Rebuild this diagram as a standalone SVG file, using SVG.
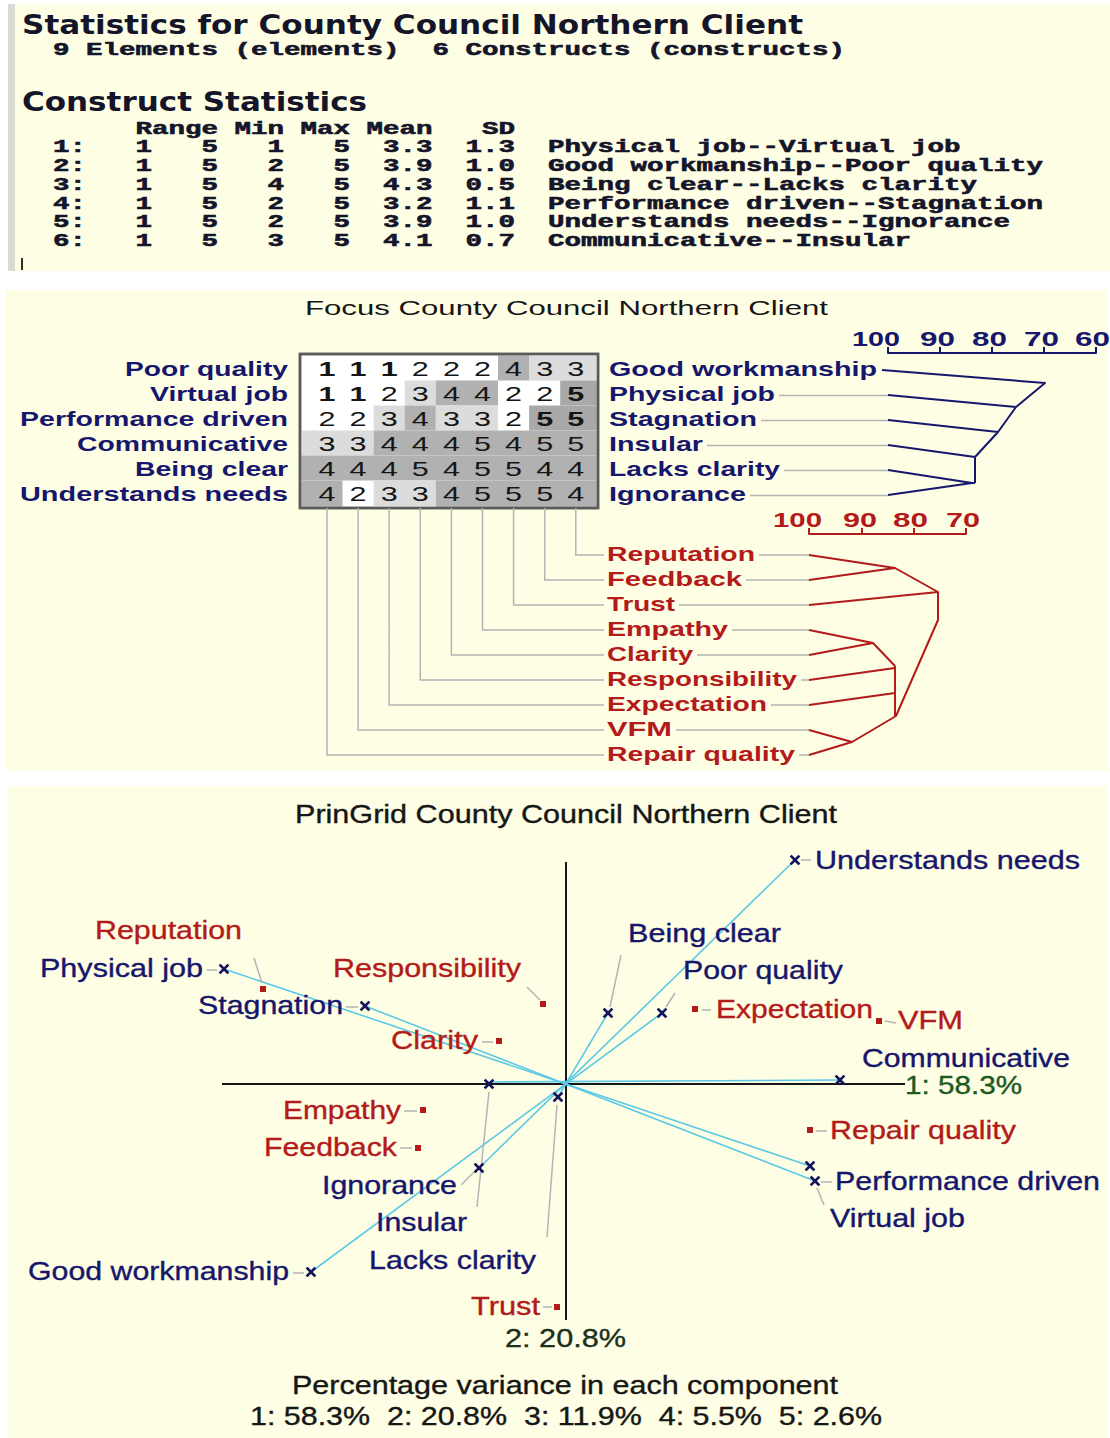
<svg xmlns="http://www.w3.org/2000/svg" xmlns:xlink="http://www.w3.org/1999/xlink" width="1110" height="1438" viewBox="0 0 1110 1438">
<style>
  .panel{fill:#fefee4}
  .mono{font-family:"Liberation Mono","Courier New",monospace;font-weight:bold;font-size:17.5px;fill:#15152a;stroke:#15152a;stroke-width:0.55;white-space:pre}
  .hd{font-family:"DejaVu Sans",Verdana,sans-serif;font-weight:bold;font-size:26px;fill:#15152a}
  .s2{font-family:"Liberation Sans",Arial,sans-serif;font-size:21px}
  .s3{font-family:"Liberation Sans",Arial,sans-serif;font-size:25px;stroke-width:0.35}
  .b{font-weight:bold}
  .navy{fill:#16166c}
  .s3.navy{stroke:#16166c}
  .red{fill:#b31a1a}
  .s3.red{stroke:#b31a1a}
  .green{fill:#1d5a1d;stroke:#1d5a1d}
  .blk{fill:#161616}
  .s3 .blk,.s3.blk{stroke:#161616}
  .dg{font-family:"Liberation Sans",Arial,sans-serif;font-size:21px;fill:#151515}
  .v1,.v2{fill:#ffffff}
  .v3{fill:#dcdcdc}
  .v4{fill:#b1b1b1}
  .v5{fill:#a9a9a9}
  .lead{stroke:#b4b4b4;stroke-width:1.5;fill:none}
  .tree-n{stroke:#16166c;stroke-width:2;fill:none;stroke-linejoin:round}
  .tree-r{stroke:#b31a1a;stroke-width:2;fill:none;stroke-linejoin:round}
  .axis{stroke:#161616;stroke-width:2}
  .pole{stroke:#5cc8e6;stroke-width:1.6}
  .xm{stroke:#14145c;stroke-width:2.6;stroke-linecap:square}
  .sq{fill:#b31a1a}
</style>
<defs>
  <path id="xmark" class="xm" d="M-3.5,-3.5L3.5,3.5M-3.5,3.5L3.5,-3.5"/>
  <rect id="sqmark" class="sq" x="-3" y="-3" width="6" height="6"/>
</defs>

<rect width="1110" height="1438" fill="#ffffff"/>

<!-- ===== Panel 1: construct statistics text ===== -->
<g id="stats">
  <rect class="panel" x="8" y="4" width="1102" height="267"/>
  <rect x="8" y="4" width="7" height="267" fill="#dadad2"/>
  <text class="hd" x="22" y="34" textLength="781" lengthAdjust="spacingAndGlyphs">Statistics for County Council Northern Client</text>
  <text class="mono" xml:space="preserve" x="53" y="55" textLength="792" lengthAdjust="spacingAndGlyphs">9 Elements (elements)  6 Constructs (constructs)</text>
  <text class="hd" x="22" y="111" textLength="345" lengthAdjust="spacingAndGlyphs">Construct Statistics</text>
  <text class="mono" xml:space="preserve" x="135.5" y="134" textLength="379.5" lengthAdjust="spacingAndGlyphs">Range Min Max Mean   SD</text>
  <text class="mono" xml:space="preserve" x="53" y="152" textLength="907.5" lengthAdjust="spacingAndGlyphs">1:   1   5   1   5  3.3  1.3  Physical job--Virtual job</text>
  <text class="mono" xml:space="preserve" x="53" y="171" textLength="990" lengthAdjust="spacingAndGlyphs">2:   1   5   2   5  3.9  1.0  Good workmanship--Poor quality</text>
  <text class="mono" xml:space="preserve" x="53" y="190" textLength="924" lengthAdjust="spacingAndGlyphs">3:   1   5   4   5  4.3  0.5  Being clear--Lacks clarity</text>
  <text class="mono" xml:space="preserve" x="53" y="209" textLength="990" lengthAdjust="spacingAndGlyphs">4:   1   5   2   5  3.2  1.1  Performance driven--Stagnation</text>
  <text class="mono" xml:space="preserve" x="53" y="227" textLength="957" lengthAdjust="spacingAndGlyphs">5:   1   5   2   5  3.9  1.0  Understands needs--Ignorance</text>
  <text class="mono" xml:space="preserve" x="53" y="246" textLength="858" lengthAdjust="spacingAndGlyphs">6:   1   5   3   5  4.1  0.7  Communicative--Insular</text>
  <line x1="22" y1="258" x2="22" y2="270" stroke="#333" stroke-width="2"/>
</g>

<!-- ===== Panel 2: focus grid with both trees ===== -->
<g id="focus">
  <rect class="panel" x="6" y="290" width="1102" height="481"/>
  <text class="s2 blk" x="305" y="315" textLength="523" lengthAdjust="spacingAndGlyphs">Focus County Council Northern Client</text>

  <!-- rating grid -->
  <g id="grid">
    <rect x="300" y="354" width="298" height="154" fill="#ffffff" stroke="#5a5a5a" stroke-width="2.5"/>
    <!-- row 1 -->
    <rect class="v4" x="498" y="355" width="31.1" height="25.5"/>
    <rect class="v3" x="529.1" y="355" width="67.9" height="25.5"/>
    <!-- row 2 -->
    <rect class="v3" x="404.7" y="380.5" width="31.1" height="25"/>
    <rect class="v4" x="435.8" y="380.5" width="62.2" height="25"/>
    <rect class="v5" x="560.2" y="380.5" width="36.8" height="25"/>
    <!-- row 3 -->
    <rect class="v3" x="373.6" y="405.5" width="31.1" height="25"/>
    <rect class="v4" x="404.7" y="405.5" width="31.1" height="25"/>
    <rect class="v3" x="435.8" y="405.5" width="62.2" height="25"/>
    <rect class="v5" x="529.1" y="405.5" width="67.9" height="25"/>
    <!-- row 4 -->
    <rect class="v3" x="301" y="430.5" width="72.6" height="25"/>
    <rect class="v4" x="373.6" y="430.5" width="223.4" height="25"/>
    <!-- row 5 -->
    <rect class="v4" x="301" y="455.5" width="296" height="25"/>
    <!-- row 6 -->
    <rect class="v4" x="301" y="480.5" width="41.5" height="26.5"/>
    <rect class="v3" x="373.6" y="480.5" width="62.2" height="26.5"/>
    <rect class="v4" x="435.8" y="480.5" width="161.2" height="26.5"/>
    <rect x="300" y="354" width="298" height="154" fill="none" stroke="#5a5a5a" stroke-width="2.5"/>

    <g class="dg">
      <text x="318.5" y="375.5" class="b" textLength="17" lengthAdjust="spacingAndGlyphs">1</text>
      <text x="349.6" y="375.5" class="b" textLength="17" lengthAdjust="spacingAndGlyphs">1</text>
      <text x="380.7" y="375.5" class="b" textLength="17" lengthAdjust="spacingAndGlyphs">1</text>
      <text x="411.8" y="375.5" textLength="17" lengthAdjust="spacingAndGlyphs">2</text>
      <text x="442.9" y="375.5" textLength="17" lengthAdjust="spacingAndGlyphs">2</text>
      <text x="474.0" y="375.5" textLength="17" lengthAdjust="spacingAndGlyphs">2</text>
      <text x="505.1" y="375.5" textLength="17" lengthAdjust="spacingAndGlyphs">4</text>
      <text x="536.2" y="375.5" textLength="17" lengthAdjust="spacingAndGlyphs">3</text>
      <text x="567.3" y="375.5" textLength="17" lengthAdjust="spacingAndGlyphs">3</text>

      <text x="318.5" y="400.5" class="b" textLength="17" lengthAdjust="spacingAndGlyphs">1</text>
      <text x="349.6" y="400.5" class="b" textLength="17" lengthAdjust="spacingAndGlyphs">1</text>
      <text x="380.7" y="400.5" textLength="17" lengthAdjust="spacingAndGlyphs">2</text>
      <text x="411.8" y="400.5" textLength="17" lengthAdjust="spacingAndGlyphs">3</text>
      <text x="442.9" y="400.5" textLength="17" lengthAdjust="spacingAndGlyphs">4</text>
      <text x="474.0" y="400.5" textLength="17" lengthAdjust="spacingAndGlyphs">4</text>
      <text x="505.1" y="400.5" textLength="17" lengthAdjust="spacingAndGlyphs">2</text>
      <text x="536.2" y="400.5" textLength="17" lengthAdjust="spacingAndGlyphs">2</text>
      <text x="567.3" y="400.5" class="b" textLength="17" lengthAdjust="spacingAndGlyphs">5</text>

      <text x="318.5" y="425.5" textLength="17" lengthAdjust="spacingAndGlyphs">2</text>
      <text x="349.6" y="425.5" textLength="17" lengthAdjust="spacingAndGlyphs">2</text>
      <text x="380.7" y="425.5" textLength="17" lengthAdjust="spacingAndGlyphs">3</text>
      <text x="411.8" y="425.5" textLength="17" lengthAdjust="spacingAndGlyphs">4</text>
      <text x="442.9" y="425.5" textLength="17" lengthAdjust="spacingAndGlyphs">3</text>
      <text x="474.0" y="425.5" textLength="17" lengthAdjust="spacingAndGlyphs">3</text>
      <text x="505.1" y="425.5" textLength="17" lengthAdjust="spacingAndGlyphs">2</text>
      <text x="536.2" y="425.5" class="b" textLength="17" lengthAdjust="spacingAndGlyphs">5</text>
      <text x="567.3" y="425.5" class="b" textLength="17" lengthAdjust="spacingAndGlyphs">5</text>

      <text x="318.5" y="450.5" textLength="17" lengthAdjust="spacingAndGlyphs">3</text>
      <text x="349.6" y="450.5" textLength="17" lengthAdjust="spacingAndGlyphs">3</text>
      <text x="380.7" y="450.5" textLength="17" lengthAdjust="spacingAndGlyphs">4</text>
      <text x="411.8" y="450.5" textLength="17" lengthAdjust="spacingAndGlyphs">4</text>
      <text x="442.9" y="450.5" textLength="17" lengthAdjust="spacingAndGlyphs">4</text>
      <text x="474.0" y="450.5" textLength="17" lengthAdjust="spacingAndGlyphs">5</text>
      <text x="505.1" y="450.5" textLength="17" lengthAdjust="spacingAndGlyphs">4</text>
      <text x="536.2" y="450.5" textLength="17" lengthAdjust="spacingAndGlyphs">5</text>
      <text x="567.3" y="450.5" textLength="17" lengthAdjust="spacingAndGlyphs">5</text>

      <text x="318.5" y="475.5" textLength="17" lengthAdjust="spacingAndGlyphs">4</text>
      <text x="349.6" y="475.5" textLength="17" lengthAdjust="spacingAndGlyphs">4</text>
      <text x="380.7" y="475.5" textLength="17" lengthAdjust="spacingAndGlyphs">4</text>
      <text x="411.8" y="475.5" textLength="17" lengthAdjust="spacingAndGlyphs">5</text>
      <text x="442.9" y="475.5" textLength="17" lengthAdjust="spacingAndGlyphs">4</text>
      <text x="474.0" y="475.5" textLength="17" lengthAdjust="spacingAndGlyphs">5</text>
      <text x="505.1" y="475.5" textLength="17" lengthAdjust="spacingAndGlyphs">5</text>
      <text x="536.2" y="475.5" textLength="17" lengthAdjust="spacingAndGlyphs">4</text>
      <text x="567.3" y="475.5" textLength="17" lengthAdjust="spacingAndGlyphs">4</text>

      <text x="318.5" y="500.5" textLength="17" lengthAdjust="spacingAndGlyphs">4</text>
      <text x="349.6" y="500.5" textLength="17" lengthAdjust="spacingAndGlyphs">2</text>
      <text x="380.7" y="500.5" textLength="17" lengthAdjust="spacingAndGlyphs">3</text>
      <text x="411.8" y="500.5" textLength="17" lengthAdjust="spacingAndGlyphs">3</text>
      <text x="442.9" y="500.5" textLength="17" lengthAdjust="spacingAndGlyphs">4</text>
      <text x="474.0" y="500.5" textLength="17" lengthAdjust="spacingAndGlyphs">5</text>
      <text x="505.1" y="500.5" textLength="17" lengthAdjust="spacingAndGlyphs">5</text>
      <text x="536.2" y="500.5" textLength="17" lengthAdjust="spacingAndGlyphs">5</text>
      <text x="567.3" y="500.5" textLength="17" lengthAdjust="spacingAndGlyphs">4</text>
    </g>
  </g>

  <!-- construct poles, left and right of the grid -->
  <g id="construct-labels" class="s2 b navy">
    <text x="125" y="375.5" textLength="163" lengthAdjust="spacingAndGlyphs">Poor quality</text>
    <text x="150" y="400.5" textLength="138" lengthAdjust="spacingAndGlyphs">Virtual job</text>
    <text x="20" y="425.5" textLength="268" lengthAdjust="spacingAndGlyphs">Performance driven</text>
    <text x="77" y="450.5" textLength="211" lengthAdjust="spacingAndGlyphs">Communicative</text>
    <text x="135" y="475.5" textLength="153" lengthAdjust="spacingAndGlyphs">Being clear</text>
    <text x="20" y="500.5" textLength="268" lengthAdjust="spacingAndGlyphs">Understands needs</text>
    <text x="609" y="375.5" textLength="268" lengthAdjust="spacingAndGlyphs">Good workmanship</text>
    <text x="609" y="400.5" textLength="166" lengthAdjust="spacingAndGlyphs">Physical job</text>
    <text x="609" y="425.5" textLength="148" lengthAdjust="spacingAndGlyphs">Stagnation</text>
    <text x="609" y="450.5" textLength="94" lengthAdjust="spacingAndGlyphs">Insular</text>
    <text x="609" y="475.5" textLength="171" lengthAdjust="spacingAndGlyphs">Lacks clarity</text>
    <text x="609" y="500.5" textLength="137" lengthAdjust="spacingAndGlyphs">Ignorance</text>
  </g>

  <!-- element names below the grid -->
  <g id="element-labels" class="s2 b red">
    <text x="607" y="560.5" textLength="148" lengthAdjust="spacingAndGlyphs">Reputation</text>
    <text x="607" y="585.5" textLength="135" lengthAdjust="spacingAndGlyphs">Feedback</text>
    <text x="607" y="610.5" textLength="68" lengthAdjust="spacingAndGlyphs">Trust</text>
    <text x="607" y="635.5" textLength="121" lengthAdjust="spacingAndGlyphs">Empathy</text>
    <text x="607" y="660.5" textLength="86" lengthAdjust="spacingAndGlyphs">Clarity</text>
    <text x="607" y="685.5" textLength="190" lengthAdjust="spacingAndGlyphs">Responsibility</text>
    <text x="607" y="710.5" textLength="160" lengthAdjust="spacingAndGlyphs">Expectation</text>
    <text x="607" y="735.5" textLength="65" lengthAdjust="spacingAndGlyphs">VFM</text>
    <text x="607" y="760.5" textLength="188" lengthAdjust="spacingAndGlyphs">Repair quality</text>
  </g>

  <!-- similarity scales -->
  <g id="scale-constructs">
    <g class="s2 b navy">
      <text x="852" y="346" textLength="48" lengthAdjust="spacingAndGlyphs">100</text>
      <text x="920" y="346" textLength="35" lengthAdjust="spacingAndGlyphs">90</text>
      <text x="972" y="346" textLength="35" lengthAdjust="spacingAndGlyphs">80</text>
      <text x="1024" y="346" textLength="35" lengthAdjust="spacingAndGlyphs">70</text>
      <text x="1075" y="346" textLength="35" lengthAdjust="spacingAndGlyphs">60</text>
    </g>
    <path class="tree-n" stroke-width="1.6" d="M888,347V353H1096V347M940,347V353M992,347V353M1044,347V353"/>
  </g>
  <g id="scale-elements">
    <g class="s2 b red">
      <text x="773" y="527" textLength="49" lengthAdjust="spacingAndGlyphs">100</text>
      <text x="843" y="527" textLength="34" lengthAdjust="spacingAndGlyphs">90</text>
      <text x="893" y="527" textLength="35" lengthAdjust="spacingAndGlyphs">80</text>
      <text x="946" y="527" textLength="34" lengthAdjust="spacingAndGlyphs">70</text>
    </g>
    <path class="tree-r" stroke-width="1.6" d="M809,528V534H966V528M862,528V534M914,528V534"/>
  </g>

  <!-- connectors: leaders, column drops and cluster trees -->
  <g id="focus-connectors">
    <path class="lead" d="M779,395.5H888M761,420.5H888M707,445.5H888M784,470.5H888M750,495.5H888"/>
    <path class="lead" d="M575.8,508V555H604M544.7,508V580H604M513.6,508V605H604M482.5,508V630H604M451.4,508V655H604M420.3,508V680H604M389.2,508V705H604M358.1,508V730H604M327,508V755H604"/>
    <path class="lead" d="M759,555H809M746,580H809M679,605H809M732,630H809M697,655H809M801,680H809M771,705H809M676,730H809M799,755H809"/>
    <path class="tree-n" d="M882,370L1045,383L1016,407L998,432L975,457V483M888,395L1016,407M888,420L998,432M888,445L975,457M888,470L972,483L888,495M972,483H975"/>
    <path class="tree-r" d="M809,555L895,568L809,580M895,568L938,592L809,605M938,592V620L896,716M809,630L873,643L809,655M873,643L895,666M809,680L895,668M809,705L895,693M895,666V717M809,730L852,742L809,755M852,742L896,716"/>
  </g>
</g>

<!-- ===== Panel 3: principal components plot ===== -->
<g id="pringrid">
  <rect class="panel" x="8" y="786" width="1100" height="652"/>
  <text class="s3 blk" x="295" y="823" textLength="542" lengthAdjust="spacingAndGlyphs">PrinGrid County Council Northern Client</text>

  <g id="axes">
    <line class="axis" x1="222" y1="1084" x2="905" y2="1084"/>
    <line class="axis" x1="566" y1="862" x2="566" y2="1320"/>
  </g>

  <!-- construct vectors, pole to pole through the origin -->
  <g id="pc-connectors">
    <line class="pole" x1="224" y1="969" x2="810" y2="1166"/>
    <line class="pole" x1="311" y1="1272" x2="662" y2="1013"/>
    <line class="pole" x1="608" y1="1013" x2="558" y2="1097"/>
    <line class="pole" x1="365" y1="1006" x2="815" y2="1181"/>
    <line class="pole" x1="795" y1="860" x2="479" y2="1168"/>
    <line class="pole" x1="489" y1="1082" x2="840" y2="1080"/>
    <path class="lead" d="M254,958L262,983M527,987L540,1000M621,955L610,1007M675,993L666,1007M207,970H217M346,1007H358M482,1042H493M702,1010H711M885,1021L896,1023M404,1111H417M400,1148H412M816,1131H827M821,1182H832M293,1273H304M543,1307H552M461,1185L474,1172M489,1092L477,1207M557,1105L547,1237M817,1188L824,1205M801,860H811"/>
  </g>

  <g id="construct-points">
    <use xlink:href="#xmark" x="795" y="860"/>
    <use xlink:href="#xmark" x="224" y="969"/>
    <use xlink:href="#xmark" x="365" y="1006"/>
    <use xlink:href="#xmark" x="608" y="1013"/>
    <use xlink:href="#xmark" x="662" y="1013"/>
    <use xlink:href="#xmark" x="840" y="1080"/>
    <use xlink:href="#xmark" x="489" y="1084"/>
    <use xlink:href="#xmark" x="558" y="1097"/>
    <use xlink:href="#xmark" x="810" y="1166"/>
    <use xlink:href="#xmark" x="815" y="1181"/>
    <use xlink:href="#xmark" x="479" y="1168"/>
    <use xlink:href="#xmark" x="311" y="1272"/>
  </g>
  <g id="element-points">
    <use xlink:href="#sqmark" x="263" y="989"/>
    <use xlink:href="#sqmark" x="543" y="1004"/>
    <use xlink:href="#sqmark" x="499" y="1041"/>
    <use xlink:href="#sqmark" x="695" y="1009"/>
    <use xlink:href="#sqmark" x="879" y="1021"/>
    <use xlink:href="#sqmark" x="423" y="1110"/>
    <use xlink:href="#sqmark" x="418" y="1148"/>
    <use xlink:href="#sqmark" x="810" y="1130"/>
    <use xlink:href="#sqmark" x="557" y="1307"/>
  </g>

  <g id="pc-construct-labels" class="s3 navy">
    <text x="815" y="869" textLength="265" lengthAdjust="spacingAndGlyphs">Understands needs</text>
    <text x="628" y="942" textLength="153" lengthAdjust="spacingAndGlyphs">Being clear</text>
    <text x="40" y="977" textLength="163" lengthAdjust="spacingAndGlyphs">Physical job</text>
    <text x="683" y="979" textLength="160" lengthAdjust="spacingAndGlyphs">Poor quality</text>
    <text x="198" y="1014" textLength="145" lengthAdjust="spacingAndGlyphs">Stagnation</text>
    <text x="862" y="1067" textLength="208" lengthAdjust="spacingAndGlyphs">Communicative</text>
    <text x="835" y="1190" textLength="265" lengthAdjust="spacingAndGlyphs">Performance driven</text>
    <text x="322" y="1194" textLength="135" lengthAdjust="spacingAndGlyphs">Ignorance</text>
    <text x="830" y="1227" textLength="135" lengthAdjust="spacingAndGlyphs">Virtual job</text>
    <text x="376" y="1231" textLength="91" lengthAdjust="spacingAndGlyphs">Insular</text>
    <text x="369" y="1269" textLength="167" lengthAdjust="spacingAndGlyphs">Lacks clarity</text>
    <text x="28" y="1280" textLength="261" lengthAdjust="spacingAndGlyphs">Good workmanship</text>
  </g>
  <g id="pc-element-labels" class="s3 red">
    <text x="95" y="939" textLength="147" lengthAdjust="spacingAndGlyphs">Reputation</text>
    <text x="333" y="977" textLength="188" lengthAdjust="spacingAndGlyphs">Responsibility</text>
    <text x="716" y="1018" textLength="157" lengthAdjust="spacingAndGlyphs">Expectation</text>
    <text x="898" y="1029" textLength="65" lengthAdjust="spacingAndGlyphs">VFM</text>
    <text x="391" y="1049" textLength="87" lengthAdjust="spacingAndGlyphs">Clarity</text>
    <text x="283" y="1119" textLength="118" lengthAdjust="spacingAndGlyphs">Empathy</text>
    <text x="830" y="1139" textLength="186" lengthAdjust="spacingAndGlyphs">Repair quality</text>
    <text x="264" y="1156" textLength="133" lengthAdjust="spacingAndGlyphs">Feedback</text>
    <text x="471" y="1315" textLength="69" lengthAdjust="spacingAndGlyphs">Trust</text>
  </g>
  <g id="variance" class="s3">
    <text class="green" x="905" y="1094" textLength="117" lengthAdjust="spacingAndGlyphs">1: 58.3%</text>
    <text fill="#1c301c" stroke="#1c301c" x="505" y="1347" textLength="121" lengthAdjust="spacingAndGlyphs">2: 20.8%</text>
    <text class="blk" x="292" y="1394" textLength="546" lengthAdjust="spacingAndGlyphs">Percentage variance in each component</text>
    <text class="blk" xml:space="preserve" style="white-space:pre" x="250" y="1425" textLength="632" lengthAdjust="spacingAndGlyphs">1: 58.3%  2: 20.8%  3: 11.9%  4: 5.5%  5: 2.6%</text>
  </g>
</g>
</svg>
